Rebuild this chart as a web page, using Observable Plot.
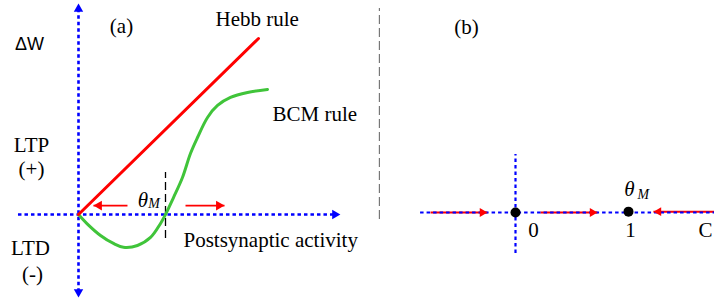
<!DOCTYPE html>
<html><head><meta charset="utf-8">
<script src="https://cdn.jsdelivr.net/npm/d3@7"></script>
<script src="https://cdn.jsdelivr.net/npm/@observablehq/plot@0.6"></script>
<style>
body{margin:0;background:#fff;overflow:hidden}
#wrap{display:flex;width:714px;height:303px}
#wrap svg{display:block}
</style>
</head><body><div id="wrap"></div>
<script>
// ---------- Panel (a): x = postsynaptic activity (θM = 1), y = ΔW ----------
const hebbX = [0, 2.069];
const hebbY = [0, 2.023];
const bcmX = [0, 0.10, 0.253, 0.402, 0.517, 0.678, 0.828, 0.943, 1.0, 1.092, 1.195, 1.287, 1.368, 1.483, 1.598, 1.747, 1.943, 2.172];
const bcmY = [0, -0.107, -0.241, -0.333, -0.376, -0.356, -0.264, -0.103, 0, 0.195, 0.425, 0.701, 0.885, 1.115, 1.253, 1.345, 1.402, 1.437];
const thetaA = 1;
const thetaDashY = [-0.276, 0.483];
const axisAHx = [-0.69, 3.01];      // horizontal axis: start, arrow tip
const axisAVy = [-0.954, 2.425];    // vertical axis: bottom tip, top tip
const arrowsA = [ // [from, tip] along x at y level
  {x1: 0.563, x2: 0.172, y: 0.103},
  {x1: 1.23, x2: 1.678, y: 0.103}
];
const sepX = 3.46, sepY = [-0.057, 2.368];
const labelsA = [
  {t: "(a)", x: 0.494, y: 2.161, a: "middle"},
  {t: "Hebb rule", x: 1.575, y: 2.241, a: "start"},
  {t: "BCM rule", x: 2.23, y: 1.149, a: "start"},
  {t: "LTP", x: -0.54, y: 0.793, a: "middle"},
  {t: "(+)", x: -0.54, y: 0.517, a: "middle"},
  {t: "LTD", x: -0.552, y: -0.391, a: "middle"},
  {t: "(-)", x: -0.529, y: -0.69, a: "middle"},
  {t: "Postsynaptic activity", x: 1.207, y: -0.299, a: "start"}
];
const dwLabel = {t: "ΔW", x: -0.563, y: 1.954};
const thetaLabelA = {x: 0.741, y: 0.167, mx: 0.868, my: 0.121};

// ---------- Panel (b): fixed points on activity axis ----------
const fixedX = [0, 1];
const fixedY = [0, 0.01];
const axisBHx = [-0.84, 1.77];
const axisBVy = [-0.471, 0.667];
const arrowsB = [
  {x1: -0.752, x2: -0.248, y: 0},
  {x1: 0.221, x2: 0.726, y: 0},
  {x1: 1.77, x2: 1.221, y: 0.01}
];
const tickLabelsB = [
  {t: "0", x: 0.159, y: -0.207, a: "middle"},
  {t: "1", x: 1.018, y: -0.207, a: "middle"},
  {t: "C", x: 1.62, y: -0.207, a: "start"},
  {t: "(b)", x: -0.434, y: 2.126, a: "middle"}
];
const thetaLabelB = {x: 1.009, y: 0.264, mx: 1.13, my: 0.207};

// ---------- styles ----------
const BLUE = "#0000ff", RED = "#ff0000", GREEN = "#40c43a";
const SERIF = "Liberation Serif, Times New Roman, serif";
const dotted = {stroke: BLUE, strokeWidth: 2.6, strokeDasharray: "3.5,3"};
const tipOff = r => 2 * Math.sqrt(Math.PI * r * r / (3 * Math.sqrt(3)));
const pts = (xs, ys) => xs.map((x, i) => ({x, y: ys[i]}));

function head(x, y, dir, r, fill) {
  const rot = {right: 90, left: -90, up: 0, down: 180}[dir];
  const o = tipOff(r);
  const dx = dir === "right" ? -o : dir === "left" ? o : 0;
  const dy = dir === "up" ? o : dir === "down" ? -o : 0;
  return Plot.dot([{x, y}], {x: "x", y: "y", symbol: "triangle", r, fill, stroke: "none", rotate: rot, dx, dy});
}
function theta(l, fs) {
  return [
    Plot.text([l], {x: "x", y: "y", text: () => "θ", fontFamily: SERIF, fontStyle: "italic", fontSize: fs, textAnchor: "middle", lineAnchor: "middle", fill: "black"}),
    Plot.text([l], {x: "mx", y: "my", text: () => "M", fontFamily: SERIF, fontStyle: "italic", fontSize: fs * 0.66, textAnchor: "middle", lineAnchor: "middle", fill: "black"})
  ];
}
function labels(data, font, size) {
  return ["start", "middle", "end"].map(a =>
    Plot.text(data.filter(d => d.a === a), {x: "x", y: "y", text: "t", textAnchor: a, fontFamily: font, fontSize: size, lineAnchor: "middle", fill: "black"}));
}

const plotA = Plot.plot({
  width: 380, height: 303, margin: 0,
  x: {domain: [0, 1], range: [78, 165], axis: null},
  y: {domain: [0, 1], range: [214, 127], axis: null},
  style: {background: "white"},
  marks: [
    Plot.ruleX([sepX], {y1: sepY[0], y2: sepY[1], stroke: "#777", strokeWidth: 1.4, strokeDasharray: "9,4"}),
    Plot.ruleY([0], {x1: axisAHx[0], x2: axisAHx[1] - 0.06, ...dotted}),
    Plot.ruleX([0], {y1: axisAVy[0] + 0.06, y2: axisAVy[1] - 0.06, ...dotted}),
    head(axisAHx[1], 0, "right", 3.5, BLUE),
    head(0, axisAVy[1], "up", 3.5, BLUE),
    head(0, axisAVy[0], "down", 3.5, BLUE),
    Plot.ruleX([thetaA], {y1: thetaDashY[0], y2: thetaDashY[1], stroke: "black", strokeWidth: 1.3, strokeDasharray: "8,4"}),
    Plot.line(pts(bcmX, bcmY), {x: "x", y: "y", stroke: GREEN, strokeWidth: 3, curve: "catmull-rom"}),
    Plot.line(pts(hebbX, hebbY), {x: "x", y: "y", stroke: RED, strokeWidth: 3}),
    Plot.link(arrowsA, {x1: "x1", x2: "x2", y1: "y", y2: "y", stroke: RED, strokeWidth: 1.8}),
    ...arrowsA.map(a => head(a.x2, a.y, a.x2 > a.x1 ? "right" : "left", 3.6, RED)),
    ...labels(labelsA, SERIF, 21),
    ...labels([{...dwLabel, a: "middle"}], "Liberation Sans, Arial, sans-serif", 18),
    ...theta(thetaLabelA, 21)
  ]
});

const plotB = Plot.plot({
  width: 334, height: 303, margin: 0,
  x: {domain: [0, 1], range: [135, 248], axis: null},
  y: {domain: [0, 1], range: [212, 125], axis: null},
  style: {background: "white"},
  marks: [
    Plot.link(arrowsB, {x1: "x1", x2: "x2", y1: "y", y2: "y", stroke: RED, strokeWidth: 2}),
    Plot.ruleY([0], {x1: axisBHx[0], x2: axisBHx[1], ...dotted, strokeWidth: 2.2}),
    Plot.ruleX([0], {y1: axisBVy[0], y2: axisBVy[1], ...dotted, strokeWidth: 2.2}),
    ...arrowsB.map(a => head(a.x2, a.y, a.x2 > a.x1 ? "right" : "left", 3.3, RED)),
    Plot.dot(pts(fixedX, fixedY), {x: "x", y: "y", r: 5, fill: "black"}),
    ...labels(tickLabelsB, SERIF, 21),
    ...theta(thetaLabelB, 21)
  ]
});

const wrap = document.getElementById("wrap");
wrap.appendChild(plotA);
wrap.appendChild(plotB);
</script>
</body></html>
